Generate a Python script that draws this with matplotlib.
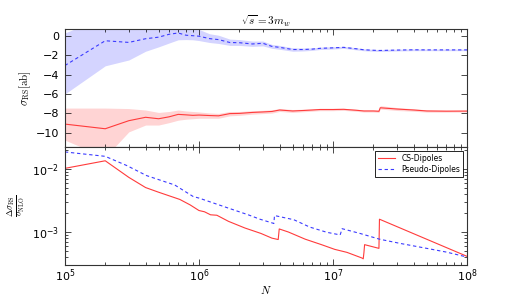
import matplotlib
matplotlib.use('Agg')
import matplotlib.pyplot as plt
import numpy as np
from matplotlib.ticker import LogLocator, NullFormatter, MultipleLocator

# ---- top panel: sigma_RS [ab] vs N ----
n_top = [1e5, 2e5, 3e5, 4e5, 5e5, 6e5, 7e5, 8e5, 9e5, 1e6,
         1.2e6, 1.4e6, 1.7e6, 2e6, 2.5e6, 3e6, 3.5e6, 4e6, 5e6, 6e6,
         7e6, 8e6, 1e7, 1.2e7, 1.5e7, 1.7e7, 2e7, 2.2e7, 2.25e7, 3e7,
         4e7, 5e7, 7e7, 1e8]

cs_mean = [-9.10, -9.58, -8.75, -8.40, -8.55, -8.35, -8.10, -8.15, -8.20, -8.17,
           -8.22, -8.25, -8.02, -8.00, -7.90, -7.85, -7.80, -7.65, -7.75, -7.70,
           -7.65, -7.60, -7.60, -7.58, -7.68, -7.75, -7.75, -7.78, -7.42, -7.55,
           -7.65, -7.75, -7.77, -7.76]
cs_hi = [-7.45, -7.45, -7.50, -7.65, -7.90, -7.80, -7.65, -7.75, -7.80, -7.85,
         -7.95, -8.00, -7.80, -7.80, -7.72, -7.68, -7.63, -7.50, -7.60, -7.57,
         -7.53, -7.48, -7.48, -7.47, -7.57, -7.64, -7.64, -7.67, -7.20, -7.40,
         -7.52, -7.63, -7.67, -7.66]
cs_lo = [-10.75, -12.50, -9.90, -9.20, -9.20, -8.95, -8.70, -8.60, -8.55, -8.50,
         -8.50, -8.50, -8.25, -8.20, -8.08, -8.02, -7.97, -7.80, -7.90, -7.83,
         -7.77, -7.72, -7.72, -7.69, -7.79, -7.86, -7.86, -7.89, -7.55, -7.70,
         -7.78, -7.87, -7.87, -7.86]

pd_mean = [-3.07, -0.52, -0.69, -0.31, -0.15, 0.15, 0.28, 0.05, 0.00, -0.05,
           -0.30, -0.40, -0.70, -0.72, -0.85, -0.78, -1.10, -1.20, -1.42, -1.42,
           -1.38, -1.30, -1.25, -1.20, -1.35, -1.45, -1.50, -1.52, -1.52, -1.48,
           -1.45, -1.46, -1.46, -1.46]
pd_hi = [0.28, 2.00, 1.20, 1.00, 0.90, 0.95, 1.00, 0.90, 0.80, 0.65,
         0.20, 0.05, -0.35, -0.40, -0.55, -0.55, -0.90, -1.00, -1.25, -1.27,
         -1.25, -1.18, -1.13, -1.09, -1.24, -1.35, -1.40, -1.42, -1.42, -1.39,
         -1.36, -1.38, -1.38, -1.38]
pd_lo = [-6.00, -3.10, -2.50, -1.60, -1.15, -0.75, -0.42, -0.40, -0.42, -0.50,
         -0.70, -0.80, -1.00, -1.00, -1.10, -1.05, -1.30, -1.40, -1.60, -1.57,
         -1.51, -1.42, -1.37, -1.31, -1.46, -1.55, -1.60, -1.62, -1.62, -1.57,
         -1.54, -1.54, -1.54, -1.54]

# ---- bottom panel: relative error ----
n_cs_err = [1e5, 2e5, 3e5, 4e5, 5e5, 7.2e5, 8.6e5, 1e6, 1.1e6, 1.22e6,
            1.36e6, 1.66e6, 2.2e6, 2.9e6, 3.5e6, 3.9e6, 3.97e6, 4.65e6, 6.2e6, 8.2e6,
            1.03e7, 1.27e7, 1.64e7, 1.68e7, 1.70e7, 1.72e7, 2.2e7, 2.22e7, 1e8]
cs_err = [0.0103, 0.0136, 0.0074, 0.0051, 0.0043, 0.0033, 0.0027, 0.0022, 0.0021, 0.00188,
          0.00185, 0.00148, 0.00116, 0.00095, 0.00080, 0.00076, 0.00112, 0.00100, 0.00077, 0.00063,
          0.00053, 0.000475, 0.000387, 0.000375, 0.00047, 0.00063, 0.00055, 0.00160, 0.00041]

n_pd_err = [1e5, 2e5, 2.9e5, 4.07e5, 6.6e5, 9.06e5, 1e6, 1.66e6, 2.33e6, 2.85e6,
            3.5e6, 3.62e6, 3.66e6, 5.1e6, 6.7e6, 9e6, 1.13e7, 1.17e7, 1.59e7, 2.22e7,
            3.16e7, 5e7, 7e7, 1e8]
pd_err = [0.0188, 0.0160, 0.0114, 0.0079, 0.0056, 0.00367, 0.00347, 0.0024, 0.00188, 0.0016,
          0.00140, 0.00137, 0.00183, 0.00157, 0.00120, 0.00099, 0.00090, 0.00113, 0.00095, 0.00077,
          0.00066, 0.00055, 0.00048, 0.00040]

plt.rcParams['mathtext.fontset'] = 'cm'
plt.rcParams['xtick.direction'] = 'in'
plt.rcParams['ytick.direction'] = 'in'
plt.rcParams['xtick.top'] = True
plt.rcParams['ytick.right'] = True
plt.rcParams['xtick.major.size'] = 4
plt.rcParams['ytick.major.size'] = 4
plt.rcParams['xtick.minor.size'] = 2
plt.rcParams['ytick.minor.size'] = 2
plt.rcParams['xtick.major.pad'] = 2
plt.rcParams['ytick.major.pad'] = 4

red = '#ff3b3b'
blue = '#3b3bff'

fig, (ax1, ax2) = plt.subplots(2, 1, sharex=True, figsize=(5.19, 2.95), dpi=100)
fig.subplots_adjust(left=0.125, right=0.9, top=0.902, bottom=0.102, hspace=0)

ax1.fill_between(n_top, cs_lo, cs_hi, color='red', alpha=0.17, lw=0)
ax1.fill_between(n_top, pd_lo, pd_hi, color='blue', alpha=0.17, lw=0)
ax1.plot(n_top, cs_mean, '-', color=red, lw=0.8)
ax1.plot(n_top, pd_mean, '--', color=blue, lw=0.8, dashes=(3, 2.5))
ax1.set_xscale('log')
ax1.set_xlim(1e5, 1e8)
ax1.set_ylim(-11.45, 0.7)
ax1.yaxis.set_major_locator(MultipleLocator(2))
ax1.set_ylabel(r'$\sigma_{\rm RS}[{\rm ab}]$', fontsize=8, labelpad=2)
ax1.set_title(r'$\sqrt{s}=3m_w$', fontsize=8, pad=3)

ax2.plot(n_cs_err, cs_err, '-', color=red, lw=0.8, label='CS-Dipoles')
ax2.plot(n_pd_err, pd_err, '--', color=blue, lw=0.8, dashes=(3, 2.5),
         label='Pseudo-Dipoles')
ax2.set_yscale('log')
ax2.set_ylim(3.0e-4, 0.0226)
ax2.set_ylabel(r'$\frac{\Delta\sigma_{\rm RS}}{\sigma_{\rm NLO}}$', fontsize=9, labelpad=4)
ax2.set_xlabel(r'$N$', fontsize=8, labelpad=0)
ax2.xaxis.set_major_locator(LogLocator(base=10))
ax2.xaxis.set_minor_locator(LogLocator(base=10, subs=np.arange(2, 10)))
ax2.xaxis.set_minor_formatter(NullFormatter())
ax2.yaxis.set_minor_formatter(NullFormatter())

leg = ax2.legend(loc='upper right', fontsize=5.5, handlelength=2.2,
                 fancybox=False, framealpha=1, borderpad=0.4, labelspacing=0.3)
leg.get_frame().set_edgecolor('black')
leg.get_frame().set_linewidth(0.6)

for ax in (ax1, ax2):
    ax.tick_params(labelsize=8, width=0.5)
    ax.tick_params(which='minor', width=0.5)
    for s in ax.spines.values():
        s.set_linewidth(0.8)
        s.set_color('#333333')

fig.savefig('out.png', dpi=100, facecolor='white')
